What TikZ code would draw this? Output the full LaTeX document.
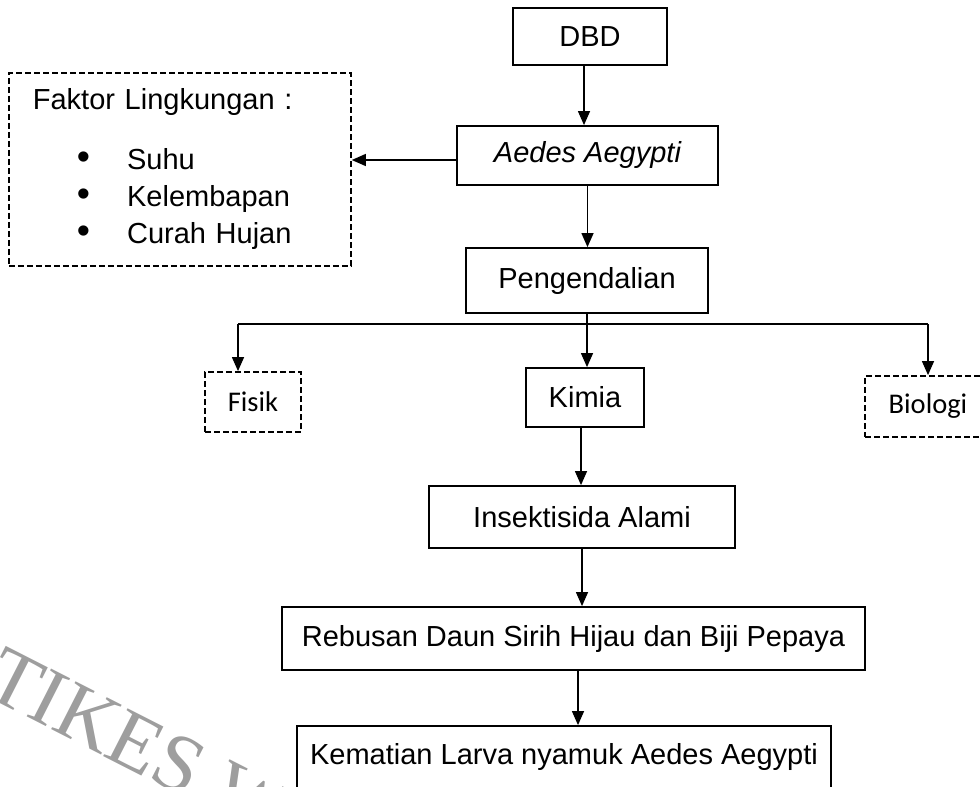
\documentclass[tikz,border=0pt]{standalone}
\usepackage{fontspec}
\setmainfont{Liberation Sans}
\newfontfamily\calibri{Carlito}
\newfontfamily\wmfont{Liberation Serif}
\usetikzlibrary{arrows.meta}

\tikzset{
    box/.style={draw, line width=1.8pt, inner sep=0pt, font=\fontsize{29}{34}\selectfont},
    dbox/.style={box, dash pattern=on 6pt off 3pt},
    cbox/.style={dbox, font=\calibri\fontsize{28.5}{34}\selectfont},
    arr/.style={-{Triangle[length=14pt, width=12pt]}, line width=1.3pt}
}

\newcommand{\blt}{\hspace*{44pt}\scalebox{1.3}{\textbullet}\hspace{37pt}}

\begin{document}
\begin{tikzpicture}[x=1pt, y=-1pt]

    \useasboundingbox (0,0) rectangle (980,787);
    \clip (0,0) rectangle (980,787);

    \node [rotate=-27, anchor=base west, inner sep=0pt, text=black!38, font=\wmfont\fontsize{82}{82}\selectfont] (wm) at (-20, 693) {TIKES W};

    \node [box, minimum width=154pt, minimum height=57pt] (dbd) at (590, 36.5) {DBD};
    \node [box, minimum width=261pt, minimum height=59pt] (aedes) at (587.5, 155.5) {\itshape Aedes Aegypti};
    \node [box, minimum width=242pt, minimum height=65pt] (peng) at (587, 280.5) {Pengendalian};
    \node [box, minimum width=118pt, minimum height=59pt] (kimia) at (585, 397.5) {Kimia};
    \node [cbox, minimum width=96pt, minimum height=60pt] (fisik) at (253, 402) {Fisik};
    \node [cbox, minimum width=126pt, minimum height=61pt] (bio) at (928, 406.5) {Biologi};
    \node [box, minimum width=306pt, minimum height=62pt] (insek) at (582, 517) {Insektisida Alami};
    \node [box, minimum width=583pt, minimum height=63pt] (rebus) at (573.5, 638.5) {Rebusan Daun Sirih Hijau dan Biji Pepaya};
    \node [box, minimum width=534pt, minimum height=62pt] (mati) at (564, 757) {Kematian Larva nyamuk Aedes Aegypti};

    \node [dbox, anchor=north west, minimum width=342pt, minimum height=193pt, text width=294pt, inner xsep=24pt, align=left, font=\fontsize{29}{37}\selectfont] (faktor) at (8, 72) {Faktor Lingkungan :\\[23pt]
        \blt Suhu\\
        \blt Kelembapan\\
        \blt Curah Hujan};

    \coordinate (busl) at (238, 324);
    \coordinate (busr) at (928, 324);

    \draw [arr] ([xshift=-6pt]dbd.south) to ([xshift=-6pt]dbd.south |- aedes.north);
    \draw [arr] ([yshift=-4.5pt]aedes.west) to ([yshift=-4.5pt]aedes.west -| faktor.east);
    \draw [arr] (aedes.south) to (aedes.south |- peng.north);
    \draw [arr] (peng.south) to (peng.south |- kimia.north);
    \draw [line width=1.3pt] (busl) to (busr);
    \draw [arr] (busl) to (busl |- fisik.north);
    \draw [arr] (busr) to (busr |- bio.north);
    \draw [arr] ([xshift=-4pt]kimia.south) to ([xshift=-4pt]kimia.south |- insek.north);
    \draw [arr] (insek.south) to (insek.south |- rebus.north);
    \draw [arr] ([xshift=4.5pt]rebus.south) to ([xshift=4.5pt]rebus.south |- mati.north);

\end{tikzpicture}
\end{document}
